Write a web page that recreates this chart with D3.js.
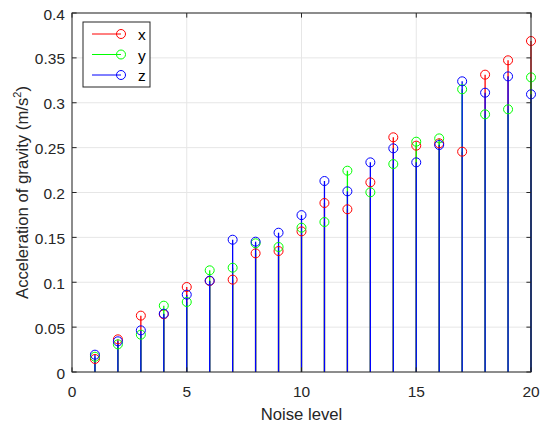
<!DOCTYPE html>
<html><head><meta charset="utf-8">
<script src="https://cdn.jsdelivr.net/npm/d3@7"></script>
<style>body{margin:0;background:#fff}svg{display:block}text{font-family:"Liberation Sans",Arial,sans-serif}</style>
</head><body><svg id="c" width="541" height="426"></svg>
<script>
const levels = [1,2,3,4,5,6,7,8,9,10,11,12,13,14,15,16,17,18,19,20];
const xVals = [0.0145,0.0364,0.0628,0.0643,0.0947,0.1014,0.1029,0.1322,0.1348,0.1567,0.1883,0.1813,0.2113,0.2615,0.2522,0.2548,0.2455,0.3313,0.3473,0.3688];
const yVals = [0.0170,0.0308,0.0416,0.0739,0.0780,0.1133,0.1162,0.1434,0.1393,0.1608,0.1671,0.2243,0.2002,0.2317,0.2566,0.2603,0.3150,0.2871,0.2927,0.3283];
const zVals = [0.0193,0.0342,0.0464,0.0650,0.0862,0.1018,0.1474,0.1452,0.1552,0.1748,0.2128,0.2013,0.2336,0.2492,0.2336,0.2529,0.3239,0.3112,0.3294,0.3094];
const xTicks = [0,5,10,15,20];
const yTicks = [0,0.05,0.1,0.15,0.2,0.25,0.3,0.35,0.4];
const seriesNames = ["x","y","z"];
const seriesColors = ["#ff0000","#00ff00","#0000ff"];

const svg = d3.select("#c");
const L=72, R=531, T=13, B=372;
const x = d3.scaleLinear().domain([0,20]).range([L,R]);
const y = d3.scaleLinear().domain([0,0.4]).range([B,T]);
const axisCol="#262626", gridCol="#e6e6e6";

// grid
const g = svg.append("g");
g.selectAll(".gx").data(xTicks).join("line").attr("x1",d=>x(d)).attr("x2",d=>x(d)).attr("y1",T).attr("y2",B).attr("stroke",gridCol);
g.selectAll(".gy").data(yTicks).join("line").attr("x1",L).attr("x2",R).attr("y1",d=>y(d)).attr("y2",d=>y(d)).attr("stroke",gridCol);

// stems
const data = [xVals,yVals,zVals];
data.forEach((vals,i)=>{
  const s = svg.append("g");
  s.selectAll("line").data(levels).join("line")
    .attr("x1",d=>x(d)).attr("x2",d=>x(d)).attr("y1",y(0)).attr("y2",(d,j)=>y(vals[j]))
    .attr("stroke",seriesColors[i]).attr("stroke-width",1.3);
});
data.forEach((vals,i)=>{
  const s = svg.append("g");
  s.selectAll("circle").data(levels).join("circle")
    .attr("cx",d=>x(d)).attr("cy",(d,j)=>y(vals[j])).attr("r",4.5)
    .attr("fill","none").attr("stroke",seriesColors[i]).attr("stroke-width",1);
});

// axes
const ax = svg.append("g").attr("fill","none").attr("stroke",axisCol).attr("stroke-width",1);
ax.append("rect").attr("x",L).attr("y",T).attr("width",R-L).attr("height",B-T);
const tl=4.6;
xTicks.forEach(t=>{
  ax.append("line").attr("x1",x(t)).attr("x2",x(t)).attr("y1",B).attr("y2",B-tl);
  ax.append("line").attr("x1",x(t)).attr("x2",x(t)).attr("y1",T).attr("y2",T+tl);
});
yTicks.forEach(t=>{
  ax.append("line").attr("x1",L).attr("x2",L+tl).attr("y1",y(t)).attr("y2",y(t));
  ax.append("line").attr("x1",R).attr("x2",R-tl).attr("y1",y(t)).attr("y2",y(t));
});
const fs=15.5;
svg.append("g").selectAll("text").data(xTicks).join("text")
  .attr("x",d=>x(d)).attr("y",B+25).attr("text-anchor","middle").attr("font-size",fs).attr("fill",axisCol).text(d=>d);
svg.append("g").selectAll("text").data(yTicks).join("text")
  .attr("x",L-7).attr("y",d=>y(d)+6.5).attr("text-anchor","end").attr("font-size",fs).attr("fill",axisCol).text(d=>d);
svg.append("text").attr("x",(L+R)/2).attr("y",420).attr("text-anchor","middle").attr("font-size",16.7).attr("fill",axisCol).text("Noise level");
const yl = svg.append("text").attr("transform",`translate(28,${(T+B)/2}) rotate(-90)`).attr("text-anchor","middle").attr("font-size",16.7).attr("fill",axisCol);
yl.append("tspan").text("Acceleration of gravity (m/s");
yl.append("tspan").attr("font-size",11).attr("dy",-7).text("2");
yl.append("tspan").attr("dy",7).text(")");

// legend
const lg = svg.append("g");
lg.append("rect").attr("x",83).attr("y",22).attr("width",67).attr("height",65).attr("fill","#fff").attr("stroke",axisCol);
seriesNames.forEach((n,i)=>{
  const yy = 34 + i*20.5;
  lg.append("line").attr("x1",92).attr("x2",121).attr("y1",yy).attr("y2",yy).attr("stroke",seriesColors[i]).attr("stroke-width",1);
  lg.append("circle").attr("cx",121).attr("cy",yy).attr("r",4.5).attr("fill","none").attr("stroke",seriesColors[i]);
  lg.append("text").attr("x",138).attr("y",yy+6).attr("font-size",15.5).attr("fill","#000").text(n);
});
</script></body></html>
